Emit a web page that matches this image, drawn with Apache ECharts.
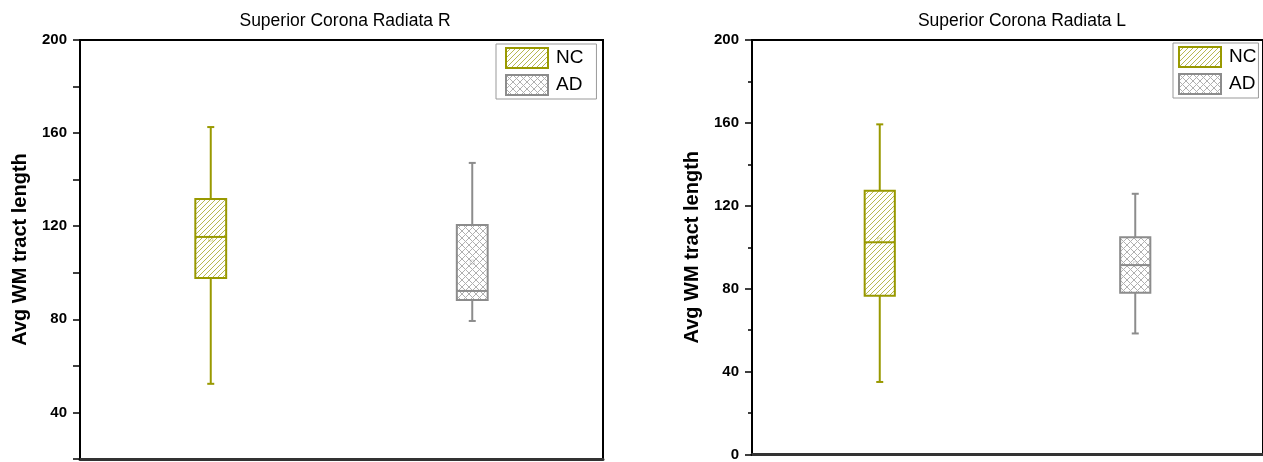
<!DOCTYPE html>
<html>
<head>
<meta charset="utf-8">
<script src="https://cdn.jsdelivr.net/npm/echarts@6/dist/echarts.min.js"></script>
<style>
html,body{margin:0;padding:0;background:#fff;}
#chart{width:1263px;height:462px;}
</style>
</head>
<body>
<div id="chart"></div>
<script>
// ---- data ----
const categories = ['NC', 'AD'];
const titleLeft = 'Superior Corona Radiata R';
const titleRight = 'Superior Corona Radiata L';
const yAxisName = 'Avg WM tract length';
// [min, Q1, median, Q3, max, mean]
const rightNC = [52.3, 97.8, 115.4, 131.7, 162.6, 114.5];
const rightAD = [79.3, 88.3, 92.2, 120.5, 147.2, 104.6];
const leftNC  = [35.0, 76.6, 102.4, 127.3, 159.3, 103.5];
const leftAD  = [58.4, 78.0, 91.4, 104.8, 125.8, 92.0];
const ticksR = [40, 80, 120, 160, 200];
const ticksL = [0, 40, 80, 120, 160, 200];

// ---- styles ----
const NC_COLOR = '#999900';
const AD_COLOR = '#8c8c8c';

function makePattern(kind) {
  const c = document.createElement('canvas');
  const s = kind === 'diag' ? 5 : 7;
  c.width = s; c.height = s;
  const g = c.getContext('2d');
  g.fillStyle = '#ffffff';
  g.fillRect(0, 0, s, s);
  g.lineWidth = 1;
  if (kind === 'diag') {
    g.strokeStyle = '#b8b850';
    g.beginPath();
    g.moveTo(-1, s + 1); g.lineTo(s + 1, -1);
    g.moveTo(-1, 1); g.lineTo(1, -1);
    g.moveTo(s - 1, s + 1); g.lineTo(s + 1, s - 1);
    g.stroke();
  } else {
    g.strokeStyle = '#b0b0b0';
    g.beginPath();
    g.moveTo(0, 0); g.lineTo(s, s);
    g.moveTo(s, 0); g.lineTo(0, s);
    g.stroke();
  }
  return c;
}
const ncPattern = { image: makePattern('diag'), repeat: 'repeat' };
const adPattern = { image: makePattern('cross'), repeat: 'repeat' };

function renderBox(color, pattern) {
  return function (params, api) {
    const x = api.value(0);
    const mn = api.coord([x, api.value(1)]);
    const q1 = api.coord([x, api.value(2)]);
    const md = api.coord([x, api.value(3)]);
    const q3 = api.coord([x, api.value(4)]);
    const mx = api.coord([x, api.value(5)]);
    const me = api.coord([x, api.value(6)]);
    const bw = api.size([1, 0])[0] * 0.118;
    const cx = mn[0];
    const cap = 3.5;
    const ls = { stroke: color, lineWidth: 2 };
    return {
      type: 'group',
      children: [
        { type: 'line', shape: { x1: cx, y1: mx[1], x2: cx, y2: q3[1] }, style: ls },
        { type: 'line', shape: { x1: cx, y1: q1[1], x2: cx, y2: mn[1] }, style: ls },
        { type: 'line', shape: { x1: cx - cap, y1: mx[1], x2: cx + cap, y2: mx[1] }, style: ls },
        { type: 'line', shape: { x1: cx - cap, y1: mn[1], x2: cx + cap, y2: mn[1] }, style: ls },
        { type: 'rect', shape: { x: cx - bw / 2, y: q3[1], width: bw, height: q1[1] - q3[1] },
          style: { fill: pattern, stroke: color, lineWidth: 2 } },
        { type: 'line', shape: { x1: cx - bw / 2, y1: md[1], x2: cx + bw / 2, y2: md[1] }, style: ls },
        { type: 'rect', shape: { x: cx - 2, y: me[1] - 2, width: 4, height: 4 },
          style: { fill: 'none', stroke: color, lineWidth: 0.6, opacity: 0.6 } }
      ]
    };
  };
}

function seriesFor(name, grid, vals, color, pattern) {
  const idx = categories.indexOf(name);
  return {
    name: name,
    type: 'custom',
    xAxisIndex: grid, yAxisIndex: grid,
    renderItem: renderBox(color, pattern),
    itemStyle: { color: color },
    encode: { x: 0, y: [1, 2, 3, 4, 5] },
    data: [[idx].concat(vals)],
    z: 5
  };
}

const FONT = 'Liberation Sans, Arial, sans-serif';

function yAxisCfg(grid, min, max, interval, labels, minor) {
  return {
    type: 'value', gridIndex: grid, min: min, max: max, interval: interval,
    name: yAxisName, nameLocation: 'middle', nameGap: 50,
    nameTextStyle: { fontFamily: FONT, fontWeight: 'bold', fontSize: 20, color: '#000' },
    axisLine: { show: true, lineStyle: { color: '#000', width: 2 } },
    axisTick: { show: true, length: 7, lineStyle: { color: '#000', width: 1.5 } },
    minorTick: { show: minor, splitNumber: 2, length: 4, lineStyle: { color: '#000', width: 1.5 } },
    axisLabel: {
      margin: 13, fontFamily: FONT, fontWeight: 'bold', fontSize: 15, color: '#000',
      formatter: function (v) { return labels.indexOf(v) >= 0 ? String(v) : ''; }
    },
    splitLine: { show: false }
  };
}
function xAxisCfg(grid) {
  return {
    type: 'category', gridIndex: grid, data: categories, boundaryGap: true,
    axisLine: { show: true, lineStyle: { color: '#333', width: 3 } },
    axisTick: { show: false }, axisLabel: { show: false }, splitLine: { show: false }
  };
}
function legendCfg(left, top, padding) {
  return {
    left: left, top: top, orient: 'vertical',
    data: [
      { name: 'NC', icon: 'rect', itemStyle: { color: ncPattern, borderColor: NC_COLOR, borderWidth: 2 } },
      { name: 'AD', icon: 'rect', itemStyle: { color: adPattern, borderColor: AD_COLOR, borderWidth: 2 } }
    ],
    itemWidth: 42, itemHeight: 20, itemGap: 5,
    padding: padding,
    borderColor: '#999', borderWidth: 1,
    textStyle: { fontFamily: FONT, fontSize: 19, color: '#000', padding: [0, 0, 0, 3] },
    selectedMode: false
  };
}

const chart = echarts.init(document.getElementById('chart'), null, { renderer: 'canvas' });
chart.setOption({
  backgroundColor: '#fff',
  animation: false,
  title: [
    { text: titleLeft, left: 340, top: 7, textAlign: 'center',
      textStyle: { fontFamily: FONT, fontWeight: 'normal', fontSize: 17.5, color: '#000' } },
    { text: titleRight, left: 1017, top: 7, textAlign: 'center',
      textStyle: { fontFamily: FONT, fontWeight: 'normal', fontSize: 17.5, color: '#000' } }
  ],
  legend: [legendCfg(496, 44, [3, 13, 3, 9]), legendCfg(1173, 43, [3, 2, 3, 5])],
  grid: [
    { left: 80, top: 40, width: 523, height: 419, show: true, borderColor: '#000', borderWidth: 2, containLabel: false },
    { left: 752, top: 40, width: 518, height: 418, show: true, borderColor: '#000', borderWidth: 2, containLabel: false }
  ],
  xAxis: [xAxisCfg(0), xAxisCfg(1)],
  yAxis: [yAxisCfg(0, 20, 200, 20, ticksR, false), yAxisCfg(1, 0, 200, 40, ticksL, true)],
  series: [
    seriesFor('NC', 0, rightNC, NC_COLOR, ncPattern),
    seriesFor('AD', 0, rightAD, AD_COLOR, adPattern),
    seriesFor('NC', 1, leftNC, NC_COLOR, ncPattern),
    seriesFor('AD', 1, leftAD, AD_COLOR, adPattern)
  ]
});
</script>
</body>
</html>
